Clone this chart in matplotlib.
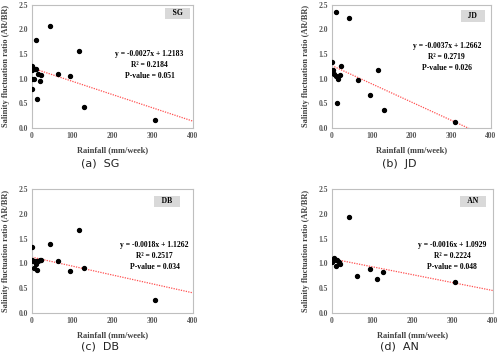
import matplotlib
matplotlib.use("Agg")
import matplotlib.pyplot as plt
import numpy as np

# rainfall (mm/week) and salinity fluctuation ratio (AR/BR) per station
sg_x = [0, 1, 0, 4, 0, 9, 44, 7, 11, 13, 16, 19, 22, 65, 95, 116, 130, 306]
sg_y = [1.25, 1.18, 1.00, 1.00, 0.80, 1.79, 2.07, 1.20, 1.20, 0.59, 1.09, 0.96, 1.07, 1.10, 1.06, 1.57, 0.43, 0.16]

jd_x = [9, 44, 0, 2, 0, 4, 11, 16, 19, 22, 65, 96, 116, 131, 12, 310]
jd_y = [2.36, 2.24, 1.33, 1.18, 1.11, 1.10, 1.06, 0.99, 1.07, 1.25, 0.98, 0.66, 1.18, 0.36, 0.50, 0.13]

db_x = [1, 0, 2, 6, 9, 11, 12, 16, 19, 22, 45, 65, 95, 116, 130, 306]
db_y = [1.34, 1.07, 1.05, 0.91, 0.99, 1.04, 0.87, 1.05, 1.07, 1.07, 1.40, 1.05, 0.84, 1.67, 0.91, 0.26]

an_x = [0, 0, 5, 9, 11, 13, 17, 21, 43, 62, 94, 113, 128, 306]
an_y = [1.07, 1.03, 1.11, 1.07, 0.95, 1.06, 1.02, 0.99, 1.93, 0.75, 0.89, 0.69, 0.82, 0.63]

names = ["SG", "JD", "DB", "AN"]
slopes = [-0.0027, -0.0037, -0.0018, -0.0016]
intercepts = [1.2183, 1.2662, 1.1262, 1.0929]
r2 = ["0.2184", "0.2719", "0.2517", "0.2224"]
pvals = ["0.051", "0.026", "0.034", "0.048"]
captions = ["(a)  SG", "(b)  JD", "(c)  DB", "(d)  AN"]

xs = [sg_x, jd_x, db_x, an_x]
ys = [sg_y, jd_y, db_y, an_y]

serif = "Liberation Serif"
fig = plt.figure(figsize=(4.99, 3.59), dpi=100)

rects = [
    [0.0641, 0.6435, 0.3226, 0.3430],
    [0.6653, 0.6435, 0.3186, 0.3430],
    [0.0641, 0.1281, 0.3226, 0.3454],
    [0.6653, 0.1281, 0.3226, 0.3454],
]
label_pos = [(0.905, 0.93), (0.885, 0.91), (0.84, 0.90), (0.875, 0.90)]
eq_pos = [(292, 1.27), (289, 1.44), (305, 1.15), (298, 1.14)]
cap_pos = [(0.20, 0.53), (0.80, 0.53), (0.20, 0.02), (0.80, 0.02)]

for i in range(4):
    ax = fig.add_axes(rects[i])
    ax.scatter(xs[i], ys[i], s=8, color="black", zorder=3)
    lx = np.array([0, 400])
    ax.plot(lx, slopes[i] * lx + intercepts[i], color="#ff5050", lw=0.9,
            linestyle=(0, (1, 1)), zorder=2)
    ax.set_xlim(0, 400)
    ax.set_ylim(0, 2.5)
    ax.set_xticks([0, 100, 200, 300, 400])
    ax.set_yticks([0, 0.5, 1.0, 1.5, 2.0, 2.5])
    ax.set_yticklabels(["0.0", "0.5", "1.0", "1.5", "2.0", "2.5"])
    ax.tick_params(length=0, labelsize=5.5, labelcolor="#595959", pad=3)
    for lab in ax.get_xticklabels() + ax.get_yticklabels():
        lab.set_fontfamily(serif)
        lab.set_fontweight("bold")
    for sp in ax.spines.values():
        sp.set_color("#bfbfbf")
        sp.set_linewidth(0.8)
    ax.set_xlabel("Rainfall (mm/week)", fontsize=6, family=serif,
                  fontweight="bold", color="#404040", labelpad=4)
    ax.set_ylabel("Salinity fluctuation ratio (AR/BR)", fontsize=6, family=serif,
                  fontweight="bold", color="#404040", labelpad=6)
    eq = "y = {}x + {}\nR\u00b2 = {}\nP-value = {}".format(slopes[i], intercepts[i], r2[i], pvals[i])
    ax.text(eq_pos[i][0], eq_pos[i][1], eq, ha="center", va="center",
            fontsize=5.5, family=serif, fontweight="bold", color="black",
            linespacing=1.5)
    ax.text(label_pos[i][0], label_pos[i][1], "   " + names[i] + "   ", transform=ax.transAxes,
            ha="center", va="center", fontsize=5.5, family=serif, fontweight="bold",
            bbox=dict(boxstyle="square,pad=0.25", fc="#d9d9d9", ec="none"))
    fig.text(cap_pos[i][0], cap_pos[i][1], captions[i], ha="center", va="bottom",
             fontsize=8, color="#222222")

fig.savefig("out.png", dpi=100)
